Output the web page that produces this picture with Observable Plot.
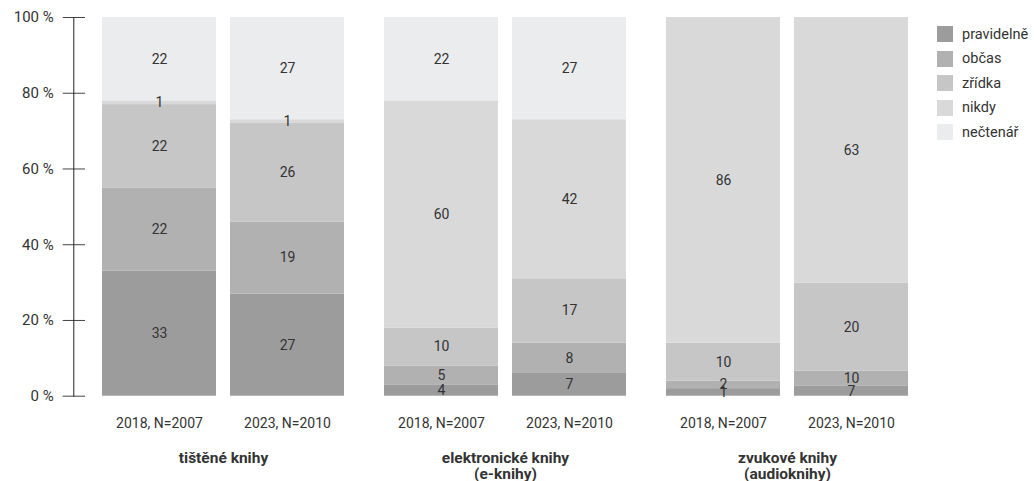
<!DOCTYPE html>
<html>
<head>
<meta charset="utf-8">
<script src="https://cdn.jsdelivr.net/npm/d3@7"></script>
<script src="https://cdn.jsdelivr.net/npm/@observablehq/plot@0.6"></script>
<style>
  body { margin: 0; background: #fff; }
  #wrap { position: relative; width: 1034px; height: 481px; overflow: hidden; font-family: Roboto, sans-serif; color: #333; }
  #legend { position: absolute; left: 937px; top: 26px; font-size: 14.5px; }
  .item { display: flex; align-items: center; height: 16px; margin-bottom: 8.6px; white-space: nowrap; }
  .sw { width: 16px; height: 16px; margin-right: 9px; flex: none; }
</style>
</head>
<body>
<div id="wrap"><div id="legend"></div></div>
<script>
const series = ["pravidelně", "občas", "zřídka", "nikdy", "nečtenář"];
const colors = ["#9c9c9d", "#b1b1b2", "#c6c6c7", "#d9d9da", "#ebeced"];
const years = ["2018, N=2007", "2023, N=2010"];
const categories = ["tištěné knihy", "elektronické knihy\n(e-knihy)", "zvukové knihy\n(audioknihy)"];

// segment heights (%), per year, in series order
const printShares = [[33, 22, 22, 1, 22], [27, 19, 26, 1, 27]];
const ebookShares = [[3, 5, 10, 60, 22], [6, 8, 17, 42, 27]];
const audioShares = [[2, 2, 10, 86, 0], [2.6, 4, 23.3, 70.1, 0]];
// printed labels
const printLabels = [[33, 22, 22, 1, 22], [27, 19, 26, 1, 27]];
const ebookLabels = [[4, 5, 10, 60, 22], [7, 8, 17, 42, 27]];
const audioLabels = [[1, 2, 10, 86, null], [7, 10, 20, 63, null]];

const sharesByCat = [printShares, ebookShares, audioShares];
const labelsByCat = [printLabels, ebookLabels, audioLabels];

const rows = [];
categories.forEach((cat, ci) => {
  years.forEach((yr, yi) => {
    series.forEach((s, si) => {
      const v = sharesByCat[ci][yi][si];
      if (v > 0) rows.push({cat, year: yr, series: s, value: v, label: labelsByCat[ci][yi][si]});
    });
  });
});

const chart = Plot.plot({
  width: 1034,
  height: 481,
  marginLeft: 102,
  marginRight: 125.5,
  marginTop: 17,
  marginBottom: 85.3,
  style: {fontFamily: "Roboto, sans-serif", fontSize: "14px", color: "#333", background: "transparent"},
  fx: {domain: categories, paddingInner: 0.1426, paddingOuter: 0, label: null},
  x: {domain: years, paddingInner: 14 / 128, paddingOuter: 0, label: null},
  y: {domain: [0, 100], label: null},
  color: {domain: series, range: colors},
  marks: [
    Plot.barY(rows, {fx: "cat", x: "year", y: "value", fill: "series", z: "series"}),
    Plot.text(rows, Plot.stackY({fx: "cat", x: "year", y: "value", z: "series", text: "label", fill: "#333", fontSize: 14})),
    Plot.axisY({ticks: [0, 20, 40, 60, 80, 100], tickFormat: d => `${d} %`, tickSize: 22.3, tickPadding: 9.5, dx: -17, stroke: "#444", fontSize: 15, label: null}),
    Plot.frame({anchor: "left", facetAnchor: "left", dx: -28.7, stroke: "#222"}),
    Plot.axisX({anchor: "bottom", tickSize: 0, tickPadding: 22, fontSize: 14, label: null}),
    Plot.axisFx({anchor: "bottom", tickSize: 0, tickPadding: 56, fontSize: 15.5, fontWeight: "bold", lineHeight: 1, label: null})
  ]
});
document.getElementById("wrap").prepend(chart);

const legend = document.getElementById("legend");
series.forEach((s, i) => {
  const it = document.createElement("div");
  it.className = "item";
  const sw = document.createElement("div");
  sw.className = "sw";
  sw.style.background = colors[i];
  const t = document.createElement("span");
  t.textContent = s;
  it.appendChild(sw);
  it.appendChild(t);
  legend.appendChild(it);
});
</script>
</body>
</html>
